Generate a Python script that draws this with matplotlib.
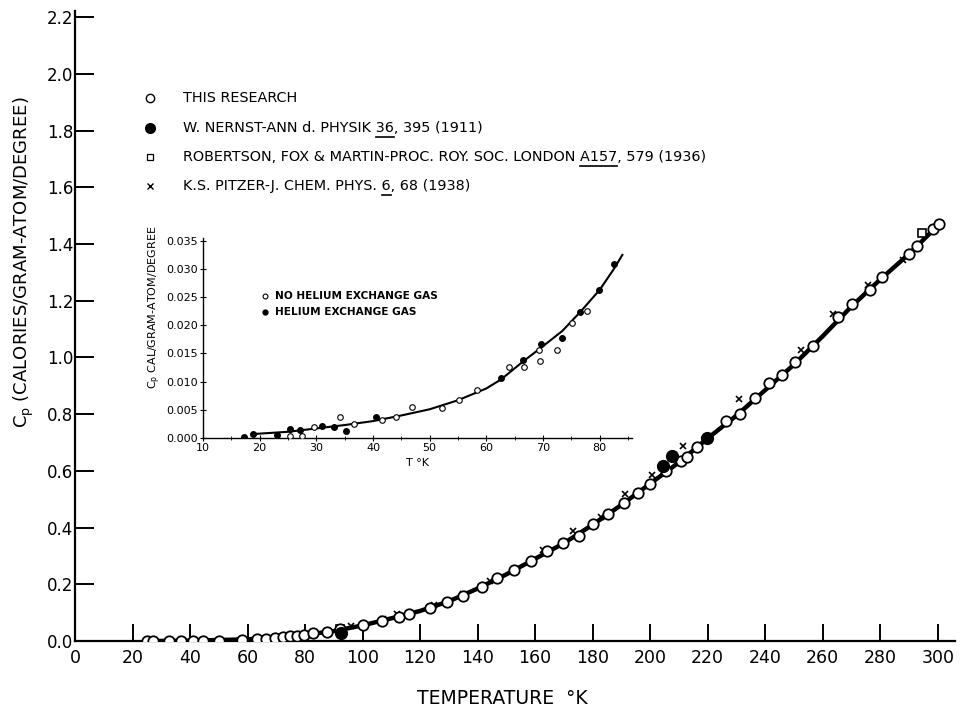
import matplotlib
matplotlib.use("Agg")
import matplotlib.pyplot as plt
from matplotlib.ticker import MultipleLocator, FixedLocator

plt.rcParams['font.family'] = ['DejaVu Sans']

# ---------------- main chart data ----------------
research_T = [25.2, 27.0, 32.8, 36.8, 40.9, 44.4, 50.2, 58.0, 63.4, 66.3, 69.6, 72.5, 74.8, 77.3,
              79.8, 82.9, 87.5, 92.2, 100.0, 106.7, 112.5, 116.3, 123.5, 129.3, 135.0, 141.6,
              146.8, 152.7, 158.6, 164.2, 169.7, 175.3, 180.2, 185.4, 191.0, 195.8, 200.0, 205.6,
              210.8, 212.9, 216.3, 226.4, 231.3, 236.5, 241.4, 245.9, 250.4, 256.7, 265.4, 270.3,
              276.5, 280.7, 290.1, 292.9, 298.4, 300.5]
research_Cp = [0.0, 0.0, 0.0, 0.0, 0.0, 0.0, 0.001, 0.004, 0.007, 0.008, 0.012, 0.015, 0.017, 0.018,
               0.022, 0.027, 0.030, 0.043, 0.056, 0.072, 0.086, 0.095, 0.115, 0.139, 0.159, 0.190,
               0.222, 0.250, 0.282, 0.317, 0.346, 0.370, 0.413, 0.448, 0.487, 0.522, 0.554, 0.599,
               0.635, 0.649, 0.684, 0.776, 0.800, 0.857, 0.910, 0.938, 0.984, 1.040, 1.142, 1.188,
               1.238, 1.283, 1.365, 1.393, 1.453, 1.470]

nernst_T = [92.5, 204.5, 207.7, 219.8]
nernst_Cp = [0.028, 0.617, 0.652, 0.716]

robertson_T = [92.0, 294.6]
robertson_Cp = [0.042, 1.440]

pitzer_T = [70, 73, 76, 79, 83, 88, 96, 107, 112, 125, 135, 144.3, 162.8, 173.2, 183, 191.3,
            200.7, 211.5, 231, 252.5, 263.7, 275.8, 288]
pitzer_Cp = [0.014, 0.017, 0.020, 0.024, 0.029, 0.036, 0.052, 0.076, 0.094, 0.127, 0.167, 0.212,
             0.322, 0.387, 0.439, 0.517, 0.587, 0.686, 0.852, 1.028, 1.152, 1.257, 1.345]

curve_T = [25, 40, 60, 70, 80, 90, 100, 110, 120, 130, 140, 150, 160, 170, 180, 190, 200, 210,
           220, 230, 240, 250, 260, 270, 280, 290, 300]
curve_Cp = [0.0, 0.001, 0.006, 0.012, 0.022, 0.035, 0.055, 0.080, 0.106, 0.140, 0.185, 0.235,
            0.290, 0.345, 0.410, 0.480, 0.555, 0.630, 0.715, 0.795, 0.885, 0.975, 1.075, 1.180,
            1.275, 1.365, 1.465]

x_ticks = [0, 20, 40, 60, 80, 100, 120, 140, 160, 180, 200, 220, 240, 260, 280, 300]
y_ticks = [0.0, 0.2, 0.4, 0.6, 0.8, 1.0, 1.2, 1.4, 1.6, 1.8, 2.0, 2.2]
y_ticklabels = ["0.0", "0.2", "0.4", "0.6", "0.8", "1.0", "1.2", "1.4", "1.6", "1.8", "2.0", "2.2"]

legend_labels = [
    ("THIS RESEARCH", None),
    ("W. NERNST-ANN d. PHYSIK 36, 395 (1911)", "36"),
    ("ROBERTSON, FOX & MARTIN-PROC. ROY. SOC. LONDON A157, 579 (1936)", "A157"),
    ("K.S. PITZER-J. CHEM. PHYS. 6, 68 (1938)", "6"),
]

# ---------------- inset data ----------------
nohe_T = [25.3, 27.5, 29.5, 34.1, 36.6, 41.6, 44.1, 46.8, 52.2, 55.2, 58.4, 64.0, 66.6, 69.4,
          69.3, 72.4, 75.2, 77.8]
nohe_Cp = [0.0004, 0.0004, 0.0019, 0.0037, 0.0024, 0.0032, 0.0038, 0.0055, 0.0054, 0.0068,
           0.0085, 0.0126, 0.0126, 0.0136, 0.0156, 0.0156, 0.0205, 0.0225]
he_T = [17.2, 18.8, 23.1, 25.3, 27.2, 31.0, 33.1, 35.2, 40.6, 62.6, 66.5, 69.6, 73.4, 76.6,
        79.8, 82.5]
he_Cp = [0.0002, 0.0007, 0.0005, 0.0016, 0.0015, 0.0021, 0.0020, 0.0012, 0.0038, 0.0107,
         0.0139, 0.0166, 0.0178, 0.0224, 0.0262, 0.0308]
icurve_T = [18.8, 25, 30, 35, 40, 45, 50, 55, 60, 62.6, 66.5, 70, 73.4, 76.6, 80, 82.5, 84]
icurve_Cp = [0.0007, 0.0011, 0.0017, 0.0023, 0.0030, 0.0040, 0.0051, 0.0067, 0.0088, 0.0104,
             0.0136, 0.0163, 0.0190, 0.0224, 0.0263, 0.0300, 0.0325]
inset_xticks = [10, 20, 30, 40, 50, 60, 70, 80]
inset_yticks = [0.000, 0.005, 0.010, 0.015, 0.020, 0.025, 0.030, 0.035]
inset_ylabels = ["0.000", "0.005", "0.010", "0.015", "0.020", "0.025", "0.030", "0.035"]

# ---------------- figure ----------------
W, H = 960, 711
fig = plt.figure(figsize=(9.6, 7.11), dpi=100)
fig.patch.set_facecolor('white')

def fx(px):
    return px / W

def fy(py):
    return 1 - py / H

ax = fig.add_axes([fx(75), fy(641), fx(955) - fx(75), fy(11) - fy(641)])
ax.set_xlim(0, 306)
ax.set_ylim(0, 2.222)
for s in ['top', 'right']:
    ax.spines[s].set_visible(False)
for s in ['left', 'bottom']:
    ax.spines[s].set_linewidth(1.6)
ax.set_xticks(x_ticks)
ax.set_xticklabels([str(t) for t in x_ticks])
ax.set_yticks(y_ticks)
ax.set_yticklabels(y_ticklabels)
ax.tick_params(axis='x', direction='in', length=12, width=1.4, labelsize=12.5, pad=6)
ax.tick_params(axis='y', direction='in', length=14, width=1.4, labelsize=12, pad=1)

ax.plot(curve_T, curve_Cp, color='black', lw=3.2, zorder=2, solid_capstyle='round')
ax.plot(pitzer_T, pitzer_Cp, linestyle='none', marker='x', ms=5, mew=1.2, color='black', zorder=3)
ax.plot(robertson_T, robertson_Cp, linestyle='none', marker='s', ms=6, mfc='white', mec='black',
        mew=1.2, zorder=3)
ax.plot(research_T, research_Cp, linestyle='none', marker='o', ms=7.5, mfc='white', mec='black',
        mew=1.3, zorder=4)
ax.plot(nernst_T, nernst_Cp, linestyle='none', marker='o', ms=8.5, mfc='black', mec='black',
        zorder=5)

# axis labels
fig.text(fx(502), fy(699), "TEMPERATURE  \u00b0K", ha='center', va='center', fontsize=13.5)
fig.text(fx(24), fy(262), r"C$_\mathregular{p}$ (CALORIES/GRAM-ATOM/DEGREE)", rotation=90,
         ha='center', va='center', fontsize=13)

# legend (manual, with underlines)
fig.canvas.draw()
renderer = fig.canvas.get_renderer()
LFS = 10.4
markers = [dict(marker='o', ms=6, mfc='white', mec='black', mew=1.0),
           dict(marker='o', ms=7, mfc='black', mec='black'),
           dict(marker='s', ms=4.5, mfc='white', mec='black', mew=0.9),
           dict(marker='x', ms=4, mew=1.0, color='black')]
leg_y = [98, 128, 157, 186]
for (label, ul), mk, py in zip(legend_labels, markers, leg_y):
    fig.lines.append(plt.Line2D([fx(150)], [fy(py)], transform=fig.transFigure, linestyle='none', **mk))
    t = fig.text(fx(183), fy(py), label, ha='left', va='center', fontsize=LFS)
    if ul:
        i = label.index(ul) + len(ul)
        tmp_full = fig.text(0, 0, label[:i], fontsize=LFS)
        tmp_seg = fig.text(0, 0, ul, fontsize=LFS)
        w_full = tmp_full.get_window_extent(renderer).width
        w_seg = tmp_seg.get_window_extent(renderer).width
        tmp_full.remove()
        tmp_seg.remove()
        x1 = 183 + w_full
        x0 = x1 - w_seg
        yl = py + 9
        fig.lines.append(plt.Line2D([fx(x0), fx(x1)], [fy(yl), fy(yl)], transform=fig.transFigure,
                                    color='black', lw=1.2))

# ---------------- inset ----------------
ia = fig.add_axes([fx(203), fy(438), fx(632) - fx(203), fy(238) - fy(438)])
ia.set_xlim(10, 85.7)
ia.set_ylim(0, 0.0355)
for s in ['top', 'right']:
    ia.spines[s].set_visible(False)
for s in ['left', 'bottom']:
    ia.spines[s].set_linewidth(1.0)
ia.xaxis.set_major_locator(FixedLocator(inset_xticks))
ia.xaxis.set_minor_locator(MultipleLocator(5))
ia.set_yticks(inset_yticks)
ia.set_yticklabels(inset_ylabels)
ia.tick_params(axis='both', which='major', direction='inout', length=4, width=0.8, labelsize=8, pad=1.5)
ia.tick_params(axis='both', which='minor', direction='inout', length=3, width=0.6)
ia.plot(icurve_T, icurve_Cp, color='black', lw=1.5, zorder=2)
ia.plot(nohe_T, nohe_Cp, linestyle='none', marker='o', ms=4, mfc='white', mec='black', mew=0.8, zorder=3)
ia.plot(he_T, he_Cp, linestyle='none', marker='o', ms=4, mfc='black', mec='black', zorder=4)
ia.set_xlabel("T \u00b0K", fontsize=8, labelpad=4)
fig.text(fx(155), fy(307), r"C$_\mathregular{p}$ CAL/GRAM-ATOM/DEGREE", rotation=90,
         ha='center', va='center', fontsize=8)

fig.lines.append(plt.Line2D([fx(265)], [fy(296)], transform=fig.transFigure, linestyle='none',
                            marker='o', ms=3.5, mfc='white', mec='black', mew=0.8))
fig.lines.append(plt.Line2D([fx(265)], [fy(312)], transform=fig.transFigure, linestyle='none',
                            marker='o', ms=3.5, mfc='black', mec='black'))
fig.text(fx(275), fy(296), "NO HELIUM EXCHANGE GAS", ha='left', va='center', fontsize=7.6, fontweight='bold')
fig.text(fx(275), fy(312), "HELIUM EXCHANGE GAS", ha='left', va='center', fontsize=7.6, fontweight='bold')

fig.savefig("out.png", dpi=100, facecolor='white')
